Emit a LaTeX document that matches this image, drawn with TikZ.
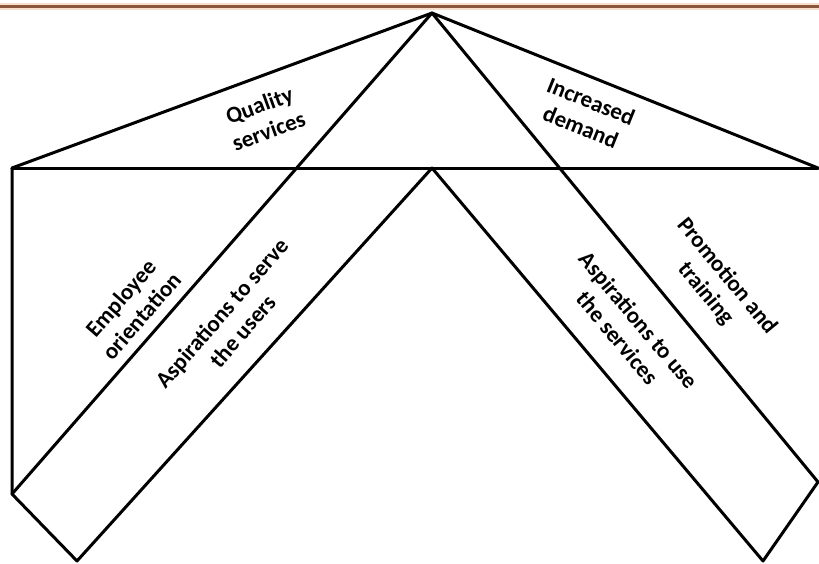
\documentclass[tikz,border=0pt]{standalone}
\usepackage{fontspec}
\setmainfont{Carlito}
\definecolor{barbrown}{RGB}{140,86,62}
\definecolor{barhalo}{RGB}{246,222,205}
\begin{document}
\begin{tikzpicture}[x=1pt,y=-1pt,
  edge/.style={line width=3pt,line cap=round,line join=round,black},
  lbl/.style={font=\bfseries\fontsize{23}{27.5}\selectfont,align=center,inner sep=0pt}]
\useasboundingbox (0,0) rectangle (819,563);
% top bar
\coordinate (barL) at (0,6);
\coordinate (barR) at (819,6);
\draw[barhalo,line width=7pt] (barL) -- (barR);
\draw[barbrown,line width=3pt] (barL) -- (barR);
% points
\coordinate (A) at (432,13);
\coordinate (L) at (12,168);
\coordinate (R) at (818,168);
\coordinate (M) at (432,168);
\coordinate (LB) at (12,494);
\coordinate (LBot) at (77,561);
\coordinate (RB) at (818,482);
\coordinate (RBot) at (763,561);
% lines
\draw[edge] (L) -- (A) -- (R);
\draw[edge] (L) -- (R);
\draw[edge] (A) -- (LB);
\draw[edge] (L) -- (LB) -- (LBot) -- (M) -- (RBot) -- (RB) -- (A);
% labels
\node[lbl,rotate=20] (q) at (264,118) {Quality\\services};
\node[lbl,rotate=-22] (d) at (586,114) {Increased\\demand};
\node[lbl,rotate=49] (e) at (131,307) {Employee\\orientation};
\node[lbl,rotate=49] (s) at (232,322) {Aspirations to serve\\the users};
\node[lbl,rotate=-50] (u) at (628,329) {Aspirations to use\\the services};
\node[lbl,rotate=-50.5] (p) at (716,285) {Promotion and\\training};
\end{tikzpicture}
\end{document}
